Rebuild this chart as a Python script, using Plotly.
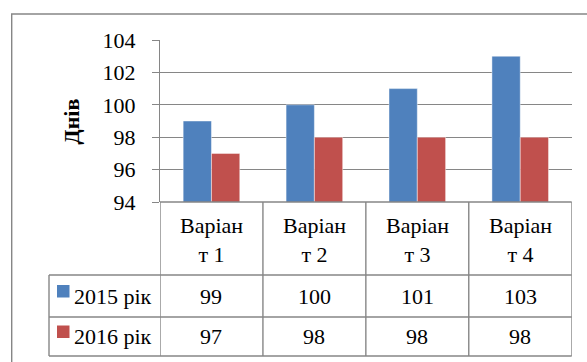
import plotly.graph_objects as go

# Data
categories = ["Варіан<br>т 1", "Варіан<br>т 2", "Варіан<br>т 3", "Варіан<br>т 4"]
series_names = ["2015 рік", "2016 рік"]
values_2015 = [99, 100, 101, 103]
values_2016 = [97, 98, 98, 98]
y_ticks = [94, 96, 98, 100, 102, 104]

colors = ["#4F81BD", "#C0504D"]
grid = "#868686"
FAM = "Liberation Serif"
FS = 22

W, H = 587, 362


def px_x(x):
    return x / W


def px_y(y):
    return 1 - y / H


def fnt():
    return dict(family=FAM, size=FS, color="black")


x_idx = list(range(len(categories)))

fig = go.Figure()
for name, vals, col in zip(series_names, [values_2015, values_2016], colors):
    fig.add_trace(go.Bar(
        x=x_idx, y=vals, name=name,
        marker=dict(color=col, line=dict(color="rgba(255,255,255,0.45)", width=1)),
        showlegend=False,
    ))

# plot area / table geometry (pixels)
plot_left, plot_right = 160, 571.7
plot_top, plot_bottom = 40, 202
row_lines = [202, 275, 317, 356]
legend_left = 49

fig.update_layout(
    width=W, height=H,
    margin=dict(l=0, r=0, t=0, b=0, autoexpand=False),
    paper_bgcolor="white", plot_bgcolor="white",
    barmode="group", bargap=0.45, bargroupgap=0,
    font=fnt(),
    xaxis=dict(
        domain=[px_x(plot_left), px_x(plot_right)],
        range=[-0.5, len(categories) - 0.5],
        showticklabels=False, showgrid=False, zeroline=False,
        showline=False, ticks="", automargin=False,
    ),
    yaxis=dict(
        domain=[px_y(plot_bottom), px_y(plot_top)],
        range=[y_ticks[0], y_ticks[-1]],
        tickvals=y_ticks,
        showgrid=True, gridcolor=grid, gridwidth=1.4,
        showline=True, linecolor=grid, linewidth=1.4,
        ticks="outside", ticklen=7, tickcolor=grid, tickwidth=1.4,
        ticklabelstandoff=12, automargin=False,
        zeroline=False,
        tickfont=fnt(),
    ),
)

shapes = []
line = dict(color=grid, width=1.4)

# outer chart frame (runs off the right and bottom edges)
shapes.append(dict(type="rect", xref="paper", yref="paper",
                   x0=px_x(11.7), x1=1.02, y0=-0.02, y1=px_y(14),
                   line=dict(color=grid, width=1.4), fillcolor="rgba(0,0,0,0)"))

# table: vertical lines between categories
for i in range(len(categories) + 1):
    shapes.append(dict(type="line", xref="x", yref="paper",
                       x0=i - 0.5, x1=i - 0.5,
                       y0=px_y(row_lines[0]), y1=px_y(row_lines[-1]), line=line))
# left edge of series-name column
shapes.append(dict(type="line", xref="paper", yref="paper",
                   x0=px_x(legend_left), x1=px_x(legend_left),
                   y0=px_y(row_lines[1]), y1=px_y(row_lines[-1]), line=line))
# horizontal rules
shapes.append(dict(type="line", xref="paper", yref="paper",
                   x0=px_x(plot_left), x1=px_x(plot_right),
                   y0=px_y(row_lines[0]), y1=px_y(row_lines[0]), line=line))
for r in row_lines[1:]:
    shapes.append(dict(type="line", xref="paper", yref="paper",
                       x0=px_x(legend_left), x1=px_x(plot_right),
                       y0=px_y(r), y1=px_y(r), line=line))

annotations = []
# category header row
for i, cat in enumerate(categories):
    annotations.append(dict(xref="x", yref="paper", x=i,
                            y=px_y((row_lines[0] + row_lines[1]) / 2 + 1),
                            text=cat, showarrow=False, align="center",
                            font=fnt()))

# series rows: legend key, name and values
for r, (name, vals, col) in enumerate(zip(series_names, [values_2015, values_2016], colors)):
    cy = (row_lines[r + 1] + row_lines[r + 2]) / 2
    shapes.append(dict(type="rect", xref="paper", yref="paper",
                       x0=px_x(57), x1=px_x(69.5),
                       y0=px_y(cy + 1.5), y1=px_y(cy - 11),
                       line=dict(width=0), fillcolor=col))
    annotations.append(dict(xref="paper", yref="paper", x=px_x(72), y=px_y(cy),
                            xanchor="left", yanchor="middle", text=name,
                            showarrow=False, font=fnt()))
    for i, v in enumerate(vals):
        annotations.append(dict(xref="x", yref="paper", x=i, y=px_y(cy),
                                yanchor="middle", text=str(v), showarrow=False,
                                font=fnt()))

# y-axis title
annotations.append(dict(xref="paper", yref="paper", x=px_x(56.5), y=px_y(121.5),
                        text="<b>Днів</b>", textangle=-90, showarrow=False,
                        font=fnt()))

fig.update_layout(shapes=shapes, annotations=annotations)

fig.write_html("out.html")
